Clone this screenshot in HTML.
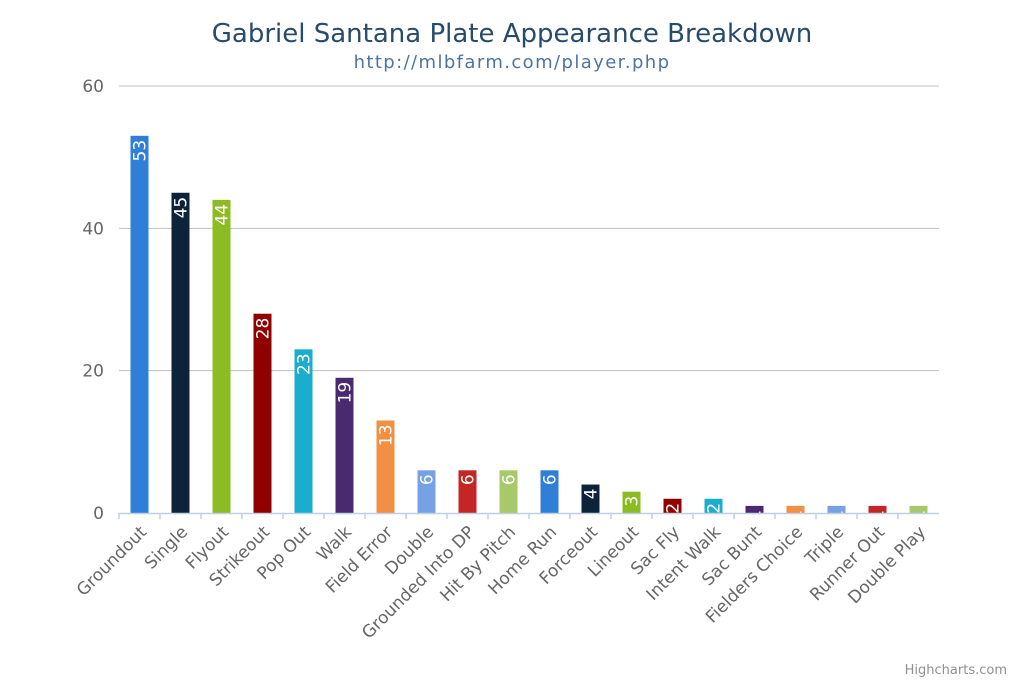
<!DOCTYPE html>
<html><head><meta charset="utf-8"><style>
html,body{margin:0;padding:0;background:#fff;}
svg{display:block;font-family:"DejaVu Sans","Liberation Sans",sans-serif;}
</style></head><body>
<svg id="chart" width="1024" height="682">
<text x="512" y="42" text-anchor="middle" font-size="26" fill="#274b6d">Gabriel Santana Plate Appearance Breakdown</text>
<text x="512" y="68" text-anchor="middle" font-size="18" letter-spacing="1.4" fill="#4d759e">http://mlbfarm.com/player.php</text>
<g id="grid"></g><g id="bars"></g><g id="xaxis"></g>
<text x="1007" y="674" text-anchor="end" font-size="13" fill="#909090">Highcharts.com</text>
</svg>
<script>
const categories=["Groundout","Single","Flyout","Strikeout","Pop Out","Walk","Field Error","Double","Grounded Into DP","Hit By Pitch","Home Run","Forceout","Lineout","Sac Fly","Intent Walk","Sac Bunt","Fielders Choice","Triple","Runner Out","Double Play"];
const values=[53,45,44,28,23,19,13,6,6,6,6,4,3,2,2,1,1,1,1,1];
const yTicks=[0,20,40,60];
const colors=["#2f7ed8","#0d233a","#8bbc21","#910000","#1aadce","#492970","#f28f43","#77a1e5","#c42525","#a6c96a"];
const NS="http://www.w3.org/2000/svg";
const plotLeft=119,plotRight=939,plotTop=86,plotBottom=513,yMax=60;
function yScale(v){return plotBottom-(v/yMax)*(plotBottom-plotTop);}
const band=(plotRight-plotLeft)/categories.length;
function xScale(i){return plotLeft+band*i;}
function mk(tag,attrs,parent){const e=document.createElementNS(NS,tag);for(const k in attrs)e.setAttribute(k,attrs[k]);parent.appendChild(e);return e;}
const grid=document.getElementById('grid'),bars=document.getElementById('bars'),xa=document.getElementById('xaxis');
yTicks.forEach(t=>{
  if(t>0){const l=mk('line',{x1:plotLeft,x2:plotRight,y1:yScale(t),y2:yScale(t),stroke:'#c0c0c0','stroke-width':1},grid);
  
  }
  const tx=mk('text',{x:104,y:yScale(t)+6,'text-anchor':'end','font-size':17,fill:'#666'},grid);
  tx.textContent=t;
  
  
});
const ax=mk('line',{x1:plotLeft,x2:plotRight,y1:plotBottom+0.5,y2:plotBottom+0.5,stroke:'#c0d0e0','stroke-width':1.5},xa);


categories.forEach((c,i)=>{
  const tk=mk('line',{x1:xScale(i),x2:xScale(i),y1:plotBottom,y2:plotBottom+6,stroke:'#c0d0e0','stroke-width':1.5},xa);
  
  
  const cx=xScale(i)+band/2;
  const lb=mk('text',{x:cx+8,y:plotBottom+20,'text-anchor':'end','font-size':17,fill:'#666',transform:`rotate(-45 ${cx+8} ${plotBottom+20})`},xa);
  lb.textContent=c;
  
  
  const v=values[i];
  const bw=18;
  const r=mk('rect',{x:cx-bw/2,y:yScale(v),width:bw,height:plotBottom-yScale(v),fill:colors[i%colors.length]},bars);
  
  
  const dx=cx+6,dy=yScale(v)+4;
  const dl=mk('text',{x:dx,y:dy,'text-anchor':'end','font-size':17,fill:'#fff',transform:`rotate(-90 ${dx} ${dy})`},bars);
  dl.textContent=v;
  
  
});
</script>
</body></html>
